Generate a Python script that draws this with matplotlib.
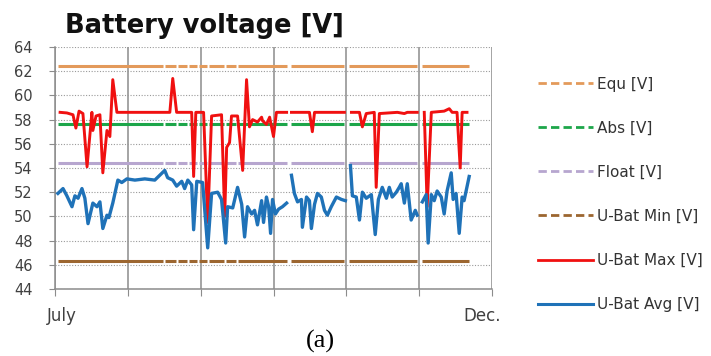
import matplotlib
matplotlib.use("Agg")
import matplotlib.pyplot as plt
from matplotlib.lines import Line2D
import numpy as np

# reference levels [V]
equ_v = 62.4
abs_v = 57.6
float_v = 54.45
ubat_min_v = 46.3

# days with valid reference data (start, end), gaps = missing days
ref_segments = [(1.2, 44.4), (45.2, 49.7), (50.6, 54.3), (55.1, 58.4),
                (59.2, 62.5), (63.3, 69.5), (70.3, 74.4), (75.2, 95.4),
                (97.4, 119.2), (121.2, 149.2), (151.3, 170.6)]

# U-Bat Max (day, V); NaN marks missing data
max_day = [2.1, 4.9, 7.4, 8.6, 9.9, 11.5, 13.2, 15.2, 15.6, 16.9, 18.5, 19.7,
           21.4, 22.6, 23.8, 25.5, 47.3, 48.5, 50.1, 56.3, 57.1, 58.0, 61.2,
           62.9, 64.5, 68.6, 69.9, 70.7, 71.9, 72.7, 75.2, 77.3, 78.9, 80.1,
           81.4, 83.4, 85.1, 85.5, 87.1, 88.4, 90.0, 91.2, 95.4, 96.4,
           97.4, 104.8, 106.0, 106.9, 119.2, 120.5,
           122.1, 125.4, 126.6, 128.2, 131.5, 132.3, 133.6, 141.0, 143.9,
           145.1, 149.2, 150.5,
           152.1, 153.3, 155.0, 160.3, 162.4, 163.6, 165.6, 166.9, 167.7, 169.7]
max_val = [58.6, 58.55, 58.4, 57.3, 58.7, 58.5, 54.1, 58.6, 57.1, 58.3, 58.4, 53.6,
           57.1, 56.6, 61.3, 58.6, 58.6, 61.4, 58.6, 58.6, 53.3, 58.6, 58.6,
           49.5, 58.3, 58.4, 50.0, 55.7, 56.1, 58.3, 58.3, 53.8, 61.3, 57.4,
           58.0, 57.8, 58.2, 57.9, 57.6, 58.2, 56.6, 58.6, 58.6, np.nan,
           58.6, 58.6, 57.0, 58.6, 58.6, np.nan,
           58.6, 58.6, 57.4, 58.5, 58.6, 52.4, 58.5, 58.6, 58.5,
           58.6, 58.6, np.nan,
           58.6, 50.8, 58.6, 58.7, 58.9, 58.6, 58.6, 54.0, 58.6, 58.6]

# U-Bat Avg (day, V)
avg_day = [1.2, 3.3, 4.9, 7.0, 8.2, 9.5, 11.1, 12.3, 13.6, 15.6, 17.3, 18.5,
           19.7, 21.4, 22.2, 23.8, 25.9, 27.5, 29.6, 32.9, 37.0, 41.1, 45.2,
           46.4, 48.5, 50.1, 52.2, 53.4, 54.7, 56.3, 57.1, 58.4, 60.8, 62.9,
           64.5, 67.0, 68.6, 70.3, 71.1, 73.2, 75.2, 76.9, 78.1, 79.3, 81.0,
           82.2, 83.4, 85.1, 85.9, 87.1, 88.0, 88.8, 89.6, 90.8, 92.1, 93.7,
           95.4, 96.4,
           97.4, 98.6, 99.9, 101.5, 101.9, 103.6, 104.8, 105.6, 106.9, 108.1,
           109.7, 111.0, 112.2, 113.8, 115.9, 118.0, 119.6, 120.5,
           121.7, 122.5, 124.1, 125.4, 126.6, 128.2, 130.3, 131.9, 133.2,
           134.8, 136.5, 137.7, 138.9, 140.6, 141.8, 142.6, 143.9, 145.1,
           146.7, 148.4, 149.2, 150.5,
           151.3, 152.9, 153.7, 155.0, 156.2, 157.4, 159.1, 160.3, 161.5,
           163.2, 164.0, 165.2, 166.5, 167.7, 168.5, 170.6]
avg_val = [51.9, 52.3, 51.7, 50.8, 51.7, 51.5, 52.3, 51.5, 49.4, 51.1, 50.8, 51.2,
           49.0, 50.1, 49.9, 51.1, 53.0, 52.8, 53.1, 53.0, 53.1, 53.0, 53.8,
           53.2, 53.0, 52.5, 52.9, 52.3, 53.0, 52.6, 48.9, 52.9, 52.8, 47.4,
           51.9, 52.0, 51.4, 47.8, 50.8, 50.7, 52.4, 51.0, 48.3, 50.8, 50.2,
           50.5, 49.3, 51.3, 49.5, 51.6, 50.8, 48.6, 51.4, 50.2, 50.6, 50.8,
           51.1, np.nan,
           53.4, 51.9, 51.2, 51.4, 49.1, 51.6, 51.3, 49.0, 51.0, 51.9,
           51.6, 50.5, 50.1, 50.8, 51.6, 51.4, 51.3, np.nan,
           54.2, 51.7, 51.6, 49.7, 52.0, 51.5, 51.8, 48.5, 51.4,
           52.4, 51.5, 52.4, 51.6, 52.0, 52.4, 52.7, 51.1, 52.7,
           49.7, 50.5, 50.1, np.nan,
           51.2, 51.8, 47.8, 51.8, 51.3, 52.1, 51.6, 50.2, 52.1,
           53.6, 51.4, 51.9, 48.6, 51.6, 51.3, 53.3]

ref_lines = [("Equ [V]", equ_v, "#E39A5B"),
             ("Abs [V]", abs_v, "#1DA64A"),
             ("Float [V]", float_v, "#B7A6CF"),
             ("U-Bat Min [V]", ubat_min_v, "#9C6630")]

fig = plt.figure(figsize=(7.11, 3.56), dpi=100)
ax = fig.add_axes([55/711, 1-289/356, 437/711, 242/356])

# gridlines
ax.set_xlim(0, 180)
ax.set_ylim(44, 64)
ax.set_xticks(np.arange(0, 181, 30))
ax.set_yticks(np.arange(44, 65, 2))
ax.grid(axis="y", color="#9a9a9a", linestyle=(0, (1, 1.5)), linewidth=0.8)
ax.grid(axis="x", color="#8c8c8c", linestyle="-", linewidth=1.1)
ax.set_axisbelow(True)

for name, lvl, col in ref_lines:
    starts = [s for s, e in ref_segments]
    ends = [e for s, e in ref_segments]
    ax.hlines([lvl] * len(ref_segments), starts, ends, colors=col, linewidth=2.2)

ax.plot(max_day, max_val, color="#F01010", linewidth=2.1, zorder=3)
ax.plot(avg_day, avg_val, color="#1F72B8", linewidth=2.4, zorder=4)

for side in ["top", "right"]:
    ax.spines[side].set_visible(False)
for side in ["left", "bottom"]:
    ax.spines[side].set_color("#8c8c8c")
    ax.spines[side].set_linewidth(1.1)
ax.tick_params(axis="x", length=5, color="#8c8c8c", labelbottom=False)
ax.tick_params(axis="y", length=4, color="#8c8c8c", labelsize=10.5,
               labelcolor="#404040", pad=12)

fig.text(62/711, 1-316/356, "July", ha="center", va="center",
         fontsize=12, color="#404040")
fig.text(482/711, 1-316/356, "Dec.", ha="center", va="center",
         fontsize=12, color="#404040")
fig.text(65/711, 1-26/356, "Battery voltage [V]", ha="left", va="center",
         fontsize=18.5, fontweight="bold", color="#111111")
fig.text(320/711, 1-341/356, "(a)", ha="center", va="center",
         fontsize=19, family="Liberation Serif")

handles = [Line2D([], [], color=c, linewidth=2.0, linestyle=(0, (3, 1.5)))
           for _, _, c in ref_lines]
handles += [Line2D([], [], color="#F01010", linewidth=2.0),
            Line2D([], [], color="#1F72B8", linewidth=2.2)]
labels = [n for n, _, _ in ref_lines] + ["U-Bat Max [V]", "U-Bat Avg [V]"]
fig.legend(handles, labels, loc="upper left",
           bbox_to_anchor=(524/711, 1-63/356), frameon=False,
           fontsize=11, labelspacing=1.9, handlelength=3.6,
           handletextpad=0.3, labelcolor="#333333")

fig.savefig("out.png", dpi=100)
